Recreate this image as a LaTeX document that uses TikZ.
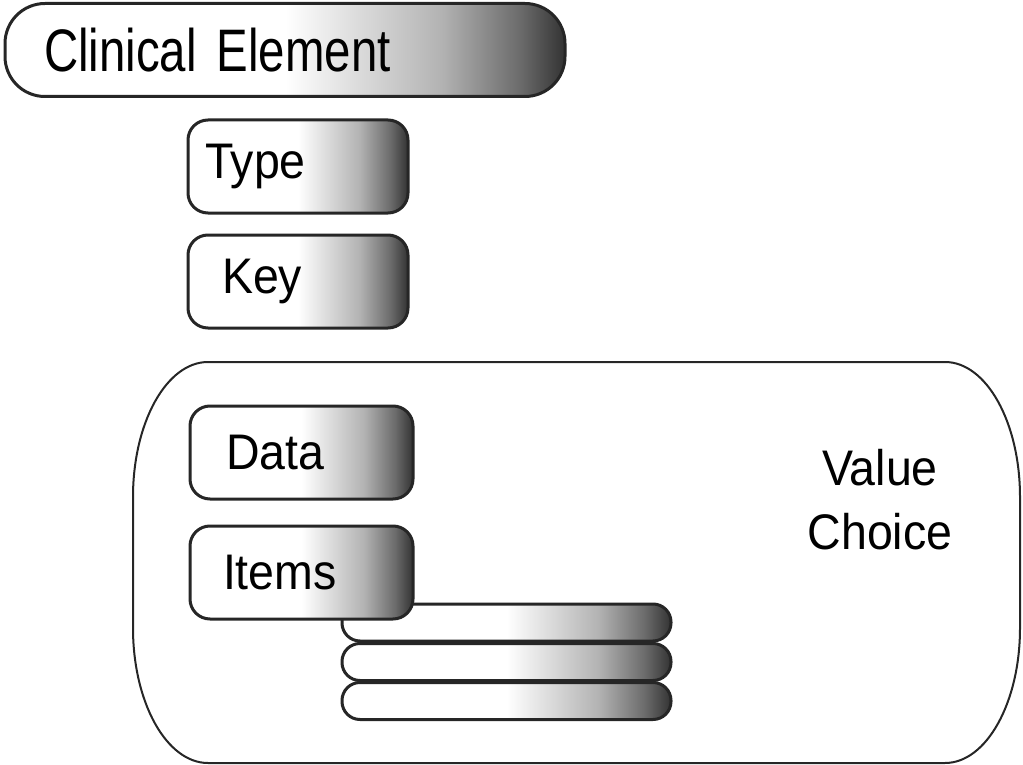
\documentclass[tikz,border=0pt]{standalone}
\usepackage{fontspec}
\setmainfont{Liberation Sans}
\newfontfamily\titlefont[FakeStretch=0.79, WordSpace=0.8]{Liberation Sans}
\newfontfamily\boxfont[FakeStretch=0.93]{Liberation Sans}
\pgfdeclarehorizontalshading{boxshade}{100bp}{color(0bp)=(white); color(50bp)=(white); color(64bp)=(black!30); color(71bp)=(black!58); color(75bp)=(black!80); color(100bp)=(black!80)}
\tikzset{
	field/.style={draw=black!85, line width=1.5pt, shade, shading=boxshade, rounded corners=10pt, minimum height=46.5pt, inner ysep=0pt, align=left, font=\boxfont\fontsize{25}{30}\selectfont},
	stackrow/.style={draw=black!85, line width=1.5pt, shade, shading=boxshade, rounded corners=9pt, minimum width=164.5pt, minimum height=18.5pt, inner sep=0pt},
}
\begin{document}
\begin{tikzpicture}[x=0.5pt, y=-0.5pt]
	\useasboundingbox (0, 0) rectangle (1023, 765);
	
	\node[field, text width=241pt, inner xsep=19.5pt, rounded corners=20pt, font=\titlefont\fontsize{30}{36}\selectfont] at (285, 50) (clinical) {Clinical Element};
	
	\node[field, text width=93pt, inner xsep=8.5pt] at (298, 166.5) (type) {Type};
	\node[field, text width=76pt, inner xsep=17pt]  at (298, 281.5) (key)  {Key};
	
	% value choice frame
	\draw[black!85, line width=1pt] (208, 362) -- (945, 362)
		.. controls (986.4, 362) and (1020, 422.5) .. (1020, 497) -- (1020, 628)
		.. controls (1020, 702.5) and (986.4, 763) .. (945, 763) -- (208, 763)
		.. controls (166.6, 763) and (133, 702.5) .. (133, 628) -- (133, 497)
		.. controls (133, 422.5) and (166.6, 362) .. (208, 362) -- cycle;
	\node[align=center, font=\boxfont\fontsize{25}{32}\selectfont] at (880, 500) (valuechoice) {Value\\Choice};
	
	\node[field, text width=75.5pt, inner xsep=18pt] at (301.5, 452.5) (data) {Data};
	
	% item rows
	\node[stackrow] at (506.5, 701)   (item3) {};
	\node[stackrow] at (506.5, 662)   (item2) {};
	\node[stackrow] at (506.5, 622.5) (item1) {};
	
	\node[field, text width=78.5pt, inner xsep=16.5pt] at (301.5, 572.5) (items) {Items};
	
\end{tikzpicture}
\end{document}
